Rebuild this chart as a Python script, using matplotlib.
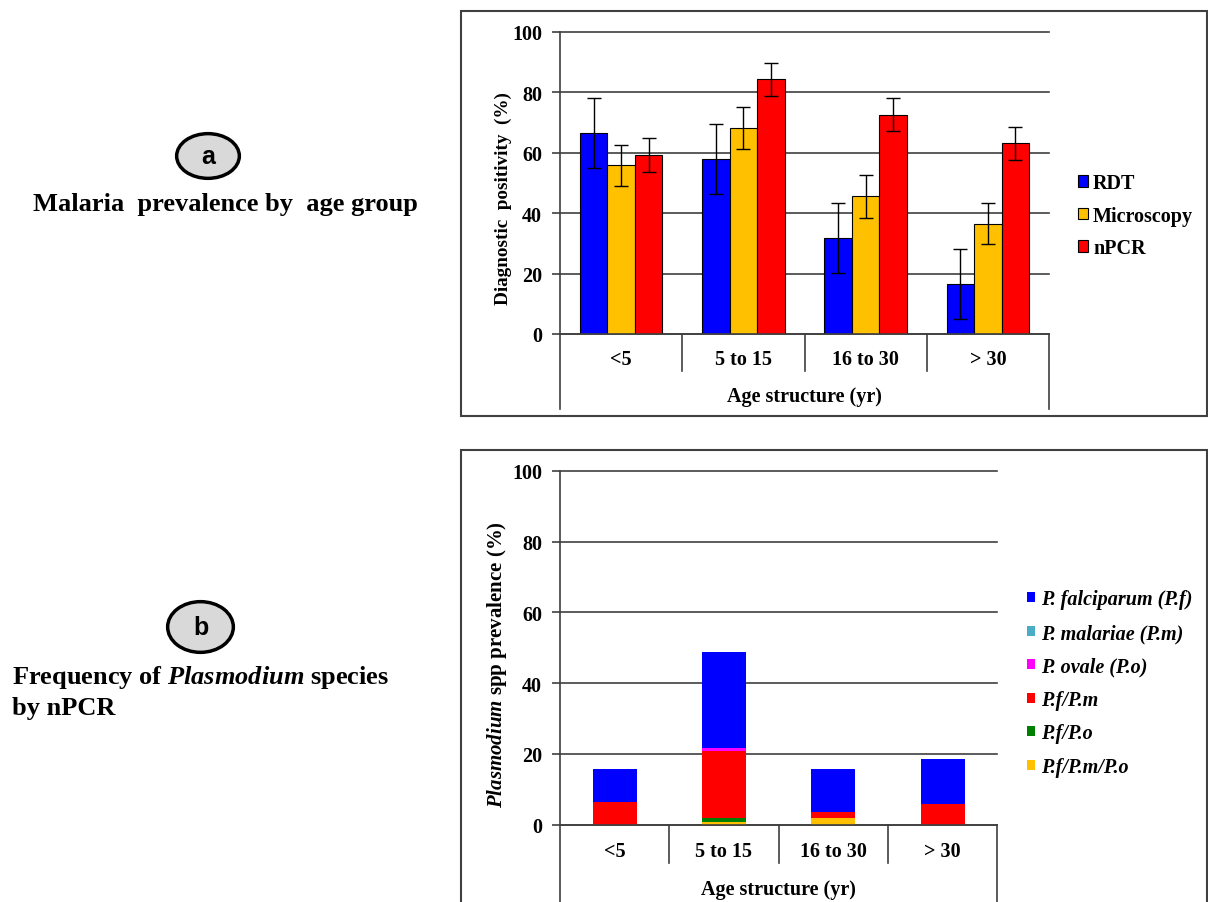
import matplotlib
matplotlib.use('Agg')
import matplotlib.pyplot as plt
from matplotlib.patches import Ellipse, Rectangle
import numpy as np

# DATA ##########################################

age_groups = ['<5', '5 to 15', '16 to 30', '> 30']

# panel a: diagnostic positivity (%) with error bars
rdt = [66.6, 57.9, 31.8, 16.6]
rdt_err = [11.6, 11.6, 11.6, 11.6]
microscopy = [55.8, 68.2, 45.5, 36.5]
microscopy_err = [6.7, 6.9, 7.0, 6.7]
npcr = [59.2, 84.2, 72.6, 63.1]
npcr_err = [5.6, 5.6, 5.6, 5.5]

# panel b: Plasmodium species prevalence (%), stacked
pf = [9.2, 27.2, 12.1, 12.8]
pm = [0.0, 0.0, 0.0, 0.0]
po = [0.0, 0.8, 0.0, 0.0]
pf_pm = [6.5, 19.1, 1.8, 5.8]
pf_po = [0.0, 0.95, 0.0, 0.0]
pf_pm_po = [0.0, 0.85, 1.8, 0.0]

# SETUP #########################################

plt.rcParams.update({
    'font.family': ['Liberation Serif', 'DejaVu Serif'],
    'font.weight': 'bold',
    'mathtext.fontset': 'custom',
    'mathtext.rm': 'Liberation Serif:bold',
    'mathtext.it': 'Liberation Serif:italic',
    'mathtext.bf': 'Liberation Serif:bold',
    'mathtext.bfit': 'Liberation Serif:bold:italic',
})

W, H = 1208, 903
fig = plt.figure(figsize=(W / 100, H / 100), dpi=100)
line_col = '#404040'
fs = 14.5


def fx(px):
    return px / W


def fy(py):
    return 1 - py / H


def style_axes(ax, div_depth, outer_depth, lab_y, title_y):
    ax.set_xlim(-0.5, 3.5)
    ax.set_ylim(0, 100)
    ax.set_yticks(range(0, 101, 20))
    ax.set_xticks([])
    for s in ['top', 'right']:
        ax.spines[s].set_visible(False)
    for s in ['left', 'bottom']:
        ax.spines[s].set_color(line_col)
        ax.spines[s].set_linewidth(1.2)
    ax.tick_params(axis='y', direction='out', length=6, width=1.2,
                   color=line_col, pad=7, labelsize=fs)
    ax.yaxis.grid(True, color=line_col, linewidth=1.2)
    for gl in ax.get_ygridlines():
        gl.set_clip_on(False)
    ax.set_axisbelow(True)
    trans = ax.get_xaxis_transform()
    for xd in [0.5, 1.5, 2.5]:
        ax.plot([xd, xd], [0, -div_depth], transform=trans, clip_on=False,
                color=line_col, lw=1.2)
    for xd in [-0.5, 3.5]:
        ax.plot([xd, xd], [0, -outer_depth], transform=trans, clip_on=False,
                color=line_col, lw=1.2)
    for i, lab in enumerate(age_groups):
        ax.text(i, -lab_y, lab, transform=trans, ha='center', va='center',
                fontsize=fs)
    ax.text(0.5, -title_y, 'Age structure (yr)', transform=ax.transAxes,
            ha='center', va='center', fontsize=fs)


# PANEL BOXES ###################################

fig.add_artist(Rectangle((fx(461), fy(417)), fx(1207) - fx(461), fy(12) - fy(417),
                         transform=fig.transFigure, fill=False,
                         edgecolor=line_col, lw=1.5))
fig.add_artist(Rectangle((fx(461), -0.01), fx(1207) - fx(461), fy(451) + 0.01,
                         transform=fig.transFigure, fill=False,
                         edgecolor=line_col, lw=1.5))

# PANEL A #######################################

ax1 = fig.add_axes([fx(560), fy(335), fx(1049) - fx(560), fy(32.7) - fy(335)])
style_axes(ax1, 0.122, 0.248, 0.083, 0.205)

x = np.arange(len(age_groups))
bw = 0.225
err_kw = dict(ecolor='black', elinewidth=1, capsize=5, capthick=1)
b1 = ax1.bar(x - bw, rdt, bw, yerr=rdt_err, color='#0000FF',
             edgecolor='black', linewidth=0.8, error_kw=err_kw, label='RDT')
b2 = ax1.bar(x, microscopy, bw, yerr=microscopy_err, color='#FFC000',
             edgecolor='black', linewidth=0.8, error_kw=err_kw, label='Microscopy')
b3 = ax1.bar(x + bw, npcr, bw, yerr=npcr_err, color='#FF0000',
             edgecolor='black', linewidth=0.8, error_kw=err_kw, label='nPCR')

ax1.text((503 - 560) / 489, 0.45, 'Diagnostic  positivity  (%)',
         transform=ax1.transAxes, rotation=90, ha='center', va='center',
         fontsize=13.8)

fig.legend(handles=[b1, b2, b3], loc='upper left',
           bbox_to_anchor=(fx(1078), fy(174)), bbox_transform=fig.transFigure,
           frameon=False, fontsize=fs, handlelength=0.5, handleheight=0.5,
           handletextpad=0.25, labelspacing=0.63, borderpad=0, borderaxespad=0)

# PANEL B #######################################

ax2 = fig.add_axes([fx(560), fy(825.7), fx(997.3) - fx(560), fy(471.7) - fy(825.7)])
style_axes(ax2, 0.109, 0.25, 0.073, 0.181)

bw2 = 0.4
series_b = [
    (pf_pm_po, '#FFC000', 'P.f/P.m/P.o'),
    (pf_po, '#008000', 'P.f/P.o'),
    (pf_pm, '#FF0000', 'P.f/P.m'),
    (po, '#FF00FF', 'P. ovale (P.o)'),
    (pm, '#4BACC6', 'P. malariae (P.m)'),
    (pf, '#0000FF', 'P. falciparum (P.f)'),
]
bottom = np.zeros(len(age_groups))
handles_b = []
for vals, col, lab in series_b:
    h = ax2.bar(x, vals, bw2, bottom=bottom, color=col, linewidth=0, label=lab)
    bottom += np.array(vals)
    handles_b.append(h)

ax2.text((497 - 560) / 437.3, 0.454, r'$\mathbfit{Plasmodium}$ spp prevalence (%)',
         transform=ax2.transAxes, rotation=90, ha='center', va='center',
         fontsize=15)

fig.legend(handles=handles_b[::-1], loc='upper left',
           bbox_to_anchor=(fx(1027), fy(590.5)), bbox_transform=fig.transFigure,
           frameon=False, handlelength=0.4, handleheight=0.4,
           handletextpad=0.32, labelspacing=0.67, borderpad=0, borderaxespad=0,
           prop=dict(family='Liberation Serif', weight='bold', style='italic',
                     size=fs))

# LEFT LABELS ###################################

for cx, cy, w, h, letter in [(208, 157, 62.7, 44.7, 'a'),
                             (200.5, 628, 65.7, 50.7, 'b')]:
    fig.add_artist(Ellipse((fx(cx), fy(cy)), w / W, h / H,
                           transform=fig.transFigure, facecolor='#D9D9D9',
                           edgecolor='black', lw=2.5))
    fig.text(fx(cx), fy(cy), letter, ha='center', va='center',
             fontsize=18, family='Liberation Sans', weight='bold')

fig.text(fx(225.5), fy(205), 'Malaria  prevalence by  age group',
         ha='center', va='center', fontsize=19)
fig.text(fx(12), fy(692), 'Frequency of $\\mathit{Plasmodium}$ species\nby nPCR',
         ha='left', va='center', fontsize=19, linespacing=1.35)

# EXPORT ########################################

fig.savefig('out.png', dpi=100)
